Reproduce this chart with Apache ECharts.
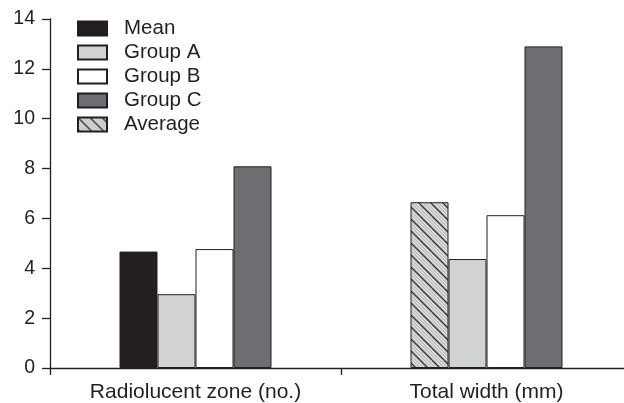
<!DOCTYPE html>
<html><head><meta charset="utf-8">
<script src="https://cdn.jsdelivr.net/npm/echarts@6/dist/echarts.min.js"></script>
<style>html,body{margin:0;padding:0;background:#fff;overflow:hidden}#c{width:632px;height:403px}</style>
</head><body><div id="c"></div>
<script>
var categories = ['Radiolucent zone (no.)', 'Total width (mm)'];
var meanVals = [4.67, null];
var groupA = [2.96, 4.37];
var groupB = [4.77, 6.13];
var groupC = [8.09, 12.9];
var averageVals = [null, 6.65];
var yTicks = [0, 2, 4, 6, 8, 10, 12, 14];

function hatch() {
  var s = 12, cv = document.createElement('canvas');
  cv.width = s; cv.height = s;
  var g = cv.getContext('2d');
  g.fillStyle = '#cfd0d2'; g.fillRect(0, 0, s, s);
  for (var k = -s; k <= s; k += 1.5) {
    var dark = Math.abs(k) < 0.01 || Math.abs(k - s) < 0.01 || Math.abs(k + s) < 0.01;
    var i = Math.round(k / 1.5);
    g.strokeStyle = dark ? '#3a3a3c' : (i % 2 === 0 ? '#ffffff' : '#98999b');
    g.lineWidth = dark ? 1.3 : 0.7;
    g.beginPath(); g.moveTo(k, 0); g.lineTo(k + s, s); g.stroke();
  }
  return cv;
}
var border = {borderColor: '#231f20', borderWidth: 1};
var font = 'Liberation Sans, Arial, sans-serif';
var chart = echarts.init(document.getElementById('c'), null, {renderer: 'canvas'});
function bar(name, data, color, stack) {
  var s = {name: name, type: 'bar', data: data, barWidth: 38, barGap: '0%',
    itemStyle: Object.assign({color: color}, border), animation: false};
  if (stack) s.stack = stack;
  return s;
}
chart.setOption({
  animation: false,
  grid: {left: 50, right: 0, top: 19, bottom: 33, containLabel: false},
  legend: {
    orient: 'vertical', left: 72, top: 13, itemWidth: 29, itemHeight: 14, itemGap: 3,
    icon: 'rect', data: ['Mean', 'Group A', 'Group B', 'Group C', 'Average'],
    textStyle: {fontSize: 20.5, color: '#231f20', fontFamily: font, padding: [0, 0, 0, 12]}
  },
  xAxis: {
    type: 'category', data: categories, boundaryGap: true,
    axisLine: {lineStyle: {color: '#231f20', width: 1.3}},
    axisTick: {show: true, length: 7, lineStyle: {color: '#231f20', width: 1.3}},
    axisLabel: {fontSize: 21, color: '#231f20', fontFamily: font, margin: 14}
  },
  yAxis: {
    type: 'value', min: yTicks[0], max: yTicks[yTicks.length - 1], interval: 2,
    splitLine: {show: false},
    axisLine: {show: true, lineStyle: {color: '#231f20', width: 1.3}},
    axisTick: {show: true, length: 8, lineStyle: {color: '#231f20', width: 1.3}},
    axisLabel: {fontSize: 19.5, color: '#231f20', fontFamily: font, margin: 15}
  },
  series: [
    bar('Mean', meanVals, '#231f20', 'first'),
    bar('Group A', groupA, '#d1d2d4'),
    bar('Group B', groupB, '#ffffff'),
    bar('Group C', groupC, '#6d6e71'),
    bar('Average', averageVals, {image: hatch(), repeat: 'repeat'}, 'first')
  ]
});
</script></body></html>
